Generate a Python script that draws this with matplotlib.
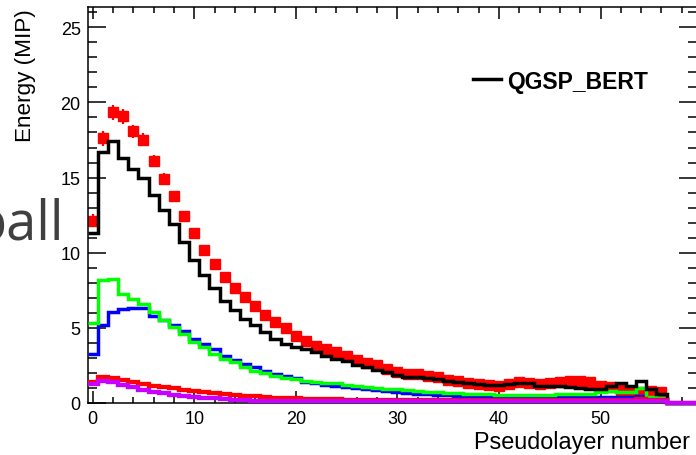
import numpy as np
import matplotlib.pyplot as plt
from matplotlib.ticker import MultipleLocator

plt.rcParams['font.family'] = ['Liberation Sans', 'DejaVu Sans']

# Bin edges for the pseudolayer histograms (60 bins, centred on integers)
edges = np.arange(-0.5, 60.5, 1.0)

# Data (red squares) per pseudolayer, 0..56
data_layer = np.arange(57)
data_energy = [
    12.13, 17.6, 19.33, 19.07, 18.07, 17.53, 16.13, 14.93, 13.8, 12.47,
    11.33, 10.2, 9.27, 8.38, 7.64, 7.04, 6.44, 5.87, 5.42, 4.98,
    4.49, 4.1, 3.8, 3.56, 3.38, 3.11, 2.85, 2.67, 2.53, 2.27,
    2.05, 1.9, 1.9, 1.82, 1.71, 1.56, 1.45, 1.35, 1.27, 1.18,
    1.16, 1.27, 1.4, 1.3, 1.27, 1.31, 1.42, 1.49, 1.44, 1.4,
    1.11, 1.04, 0.89, 0.78, 0.72, 0.78, 0.75]
data_err = [
    0.45, 0.5, 0.5, 0.5, 0.45, 0.45, 0.4, 0.35, 0.3, 0.3,
    0.25, 0.25, 0.25, 0.25, 0.25, 0.2, 0.2, 0.2, 0.2, 0.2,
    0.2, 0.2, 0.2, 0.2, 0.2, 0.2, 0.2, 0.2, 0.2, 0.2,
    0.2, 0.2, 0.2, 0.2, 0.2, 0.2, 0.2, 0.2, 0.2, 0.2,
    0.2, 0.2, 0.2, 0.2, 0.2, 0.2, 0.2, 0.2, 0.2, 0.2,
    0.2, 0.2, 0.2, 0.2, 0.2, 0.2, 0.2]

# QGSP_BERT total (black)
qgsp_bert = [
    11.3, 16.7, 17.45, 16.27, 15.57, 15.0, 13.87, 12.85, 11.9, 10.72,
    9.5, 8.55, 7.62, 6.82, 6.16, 5.6, 5.16, 4.71, 4.27, 3.93,
    3.75, 3.6, 3.38, 3.1, 2.93, 2.8, 2.55, 2.38, 2.18, 2.04,
    1.85, 1.72, 1.76, 1.64, 1.6, 1.49, 1.38, 1.31, 1.27, 1.22,
    1.22, 1.27, 1.36, 1.31, 1.16, 1.16, 1.11, 1.04, 1.0, 0.93,
    0.93, 1.16, 1.33, 1.16, 1.44, 0.93, 0.6, 0, 0, 0]

# components
green_comp = [
    5.33, 8.16, 8.27, 7.27, 6.93, 6.6, 6.04, 5.49, 5.04, 4.6,
    4.05, 3.71, 3.27, 2.93, 2.71, 2.42, 2.16, 2.0, 1.82, 1.66,
    1.57, 1.49, 1.42, 1.36, 1.3, 1.22, 1.15, 1.08, 1.0, 0.95,
    0.9, 0.85, 0.8, 0.76, 0.72, 0.68, 0.65, 0.62, 0.6, 0.58,
    0.56, 0.55, 0.55, 0.55, 0.56, 0.56, 0.57, 0.58, 0.6, 0.62,
    0.72, 0.8, 0.72, 0.75, 0.98, 0.42, 0.33, 0, 0, 0]

blue_comp = [
    3.27, 5.2, 6.04, 6.27, 6.31, 6.31, 5.82, 5.49, 5.16, 4.82,
    4.27, 3.9, 3.56, 3.16, 2.87, 2.6, 2.38, 2.11, 1.93, 1.8,
    1.64, 1.4, 1.3, 1.2, 1.12, 1.04, 0.97, 0.9, 0.84, 0.78,
    0.73, 0.68, 0.62, 0.57, 0.53, 0.5, 0.47, 0.45, 0.43, 0.42,
    0.4, 0.39, 0.38, 0.38, 0.38, 0.38, 0.38, 0.38, 0.38, 0.38,
    0.38, 0.38, 0.38, 0.42, 0.45, 0.28, 0.25, 0, 0, 0]

red_comp = [
    1.38, 1.71, 1.67, 1.56, 1.42, 1.27, 1.16, 1.04, 0.98, 0.87,
    0.8, 0.72, 0.66, 0.6, 0.53, 0.48, 0.44, 0.4, 0.36, 0.33,
    0.3, 0.28, 0.27, 0.25, 0.24, 0.23, 0.22, 0.22, 0.21, 0.21,
    0.2, 0.2, 0.2, 0.2, 0.2, 0.2, 0.2, 0.2, 0.2, 0.2,
    0.2, 0.2, 0.2, 0.2, 0.2, 0.2, 0.2, 0.2, 0.2, 0.2,
    0.2, 0.2, 0.2, 0.22, 0.25, 0.2, 0.2, 0, 0, 0]

magenta_comp = [
    1.27, 1.49, 1.42, 1.2, 1.04, 0.87, 0.76, 0.64, 0.56, 0.49,
    0.42, 0.36, 0.3, 0.25, 0.21, 0.18, 0.15, 0.13, 0.12, 0.11,
    0.1, 0.1, 0.1, 0.1, 0.1, 0.1, 0.1, 0.1, 0.1, 0.1,
    0.1, 0.1, 0.1, 0.1, 0.1, 0.1, 0.1, 0.1, 0.1, 0.1,
    0.1, 0.1, 0.1, 0.1, 0.1, 0.1, 0.1, 0.1, 0.1, 0.1,
    0.1, 0.1, 0.1, 0.1, 0.1, 0.1, 0.1, 0, 0, 0]

W, H = 696, 456
fig = plt.figure(figsize=(W / 100, H / 100), dpi=100)
ax = fig.add_axes([87.6 / W, 1 - 404 / H, (697 - 87.6) / W, (404 - 8) / H])

# data points
ax.errorbar(data_layer, data_energy, yerr=data_err, fmt='s', color='red',
            ms=7.8, elinewidth=1.6, capsize=0, zorder=2)

lw = 2.5
ax.stairs(blue_comp, edges, baseline=None, color='#0000ff', lw=lw, zorder=3, clip_on=False)
ax.stairs(green_comp, edges, baseline=None, color='#00ff00', lw=lw, zorder=4, clip_on=False)
ax.stairs(qgsp_bert, edges, baseline=None, color='black', lw=lw, zorder=5,
          clip_on=False, label='QGSP_BERT')
ax.stairs(red_comp, edges, baseline=None, color='#ff0000', lw=lw + 0.6, zorder=6, clip_on=False)
ax.stairs(magenta_comp, edges, baseline=None, color='#c800ff', lw=lw + 0.6, zorder=7, clip_on=False)

ax.set_xlim(-0.5, 59.5)
ax.set_ylim(0, 26.35)

ax.xaxis.set_major_locator(MultipleLocator(10))
ax.xaxis.set_minor_locator(MultipleLocator(2))
ax.yaxis.set_major_locator(MultipleLocator(5))
ax.yaxis.set_minor_locator(MultipleLocator(1))
ax.tick_params(axis='both', which='both', direction='in', top=True, right=True,
               width=1.1, labelsize=13, pad=5)
ax.tick_params(axis='y', which='major', length=13)
ax.tick_params(axis='y', which='minor', length=6.5)
ax.tick_params(axis='x', which='major', length=8.6)
ax.tick_params(axis='x', which='minor', length=4.3)
for s in ax.spines.values():
    s.set_linewidth(1.1)

leg = ax.legend(loc='center left', bbox_to_anchor=((473 - 87.6) / (697 - 87.6), (404 - 82) / 396),
                frameon=False, borderpad=0, borderaxespad=0, handlelength=1.2,
                handletextpad=0.28, prop={'weight': 'bold', 'size': 16.5})

fig.text(25 / W, 1 - 9 / H, 'Energy (MIP)', rotation=90, ha='center', va='top', fontsize=16.2)
fig.text(690 / W, 1 - 449 / H, 'Pseudolayer number', ha='right', va='baseline', fontsize=16.8)
fig.text(64 / W, 1 - 240 / H, 'ball', ha='right', va='baseline', fontsize=39,
         color='#404040', family=['Open Sans', 'DejaVu Sans'])

fig.savefig('out.png', dpi=100)
